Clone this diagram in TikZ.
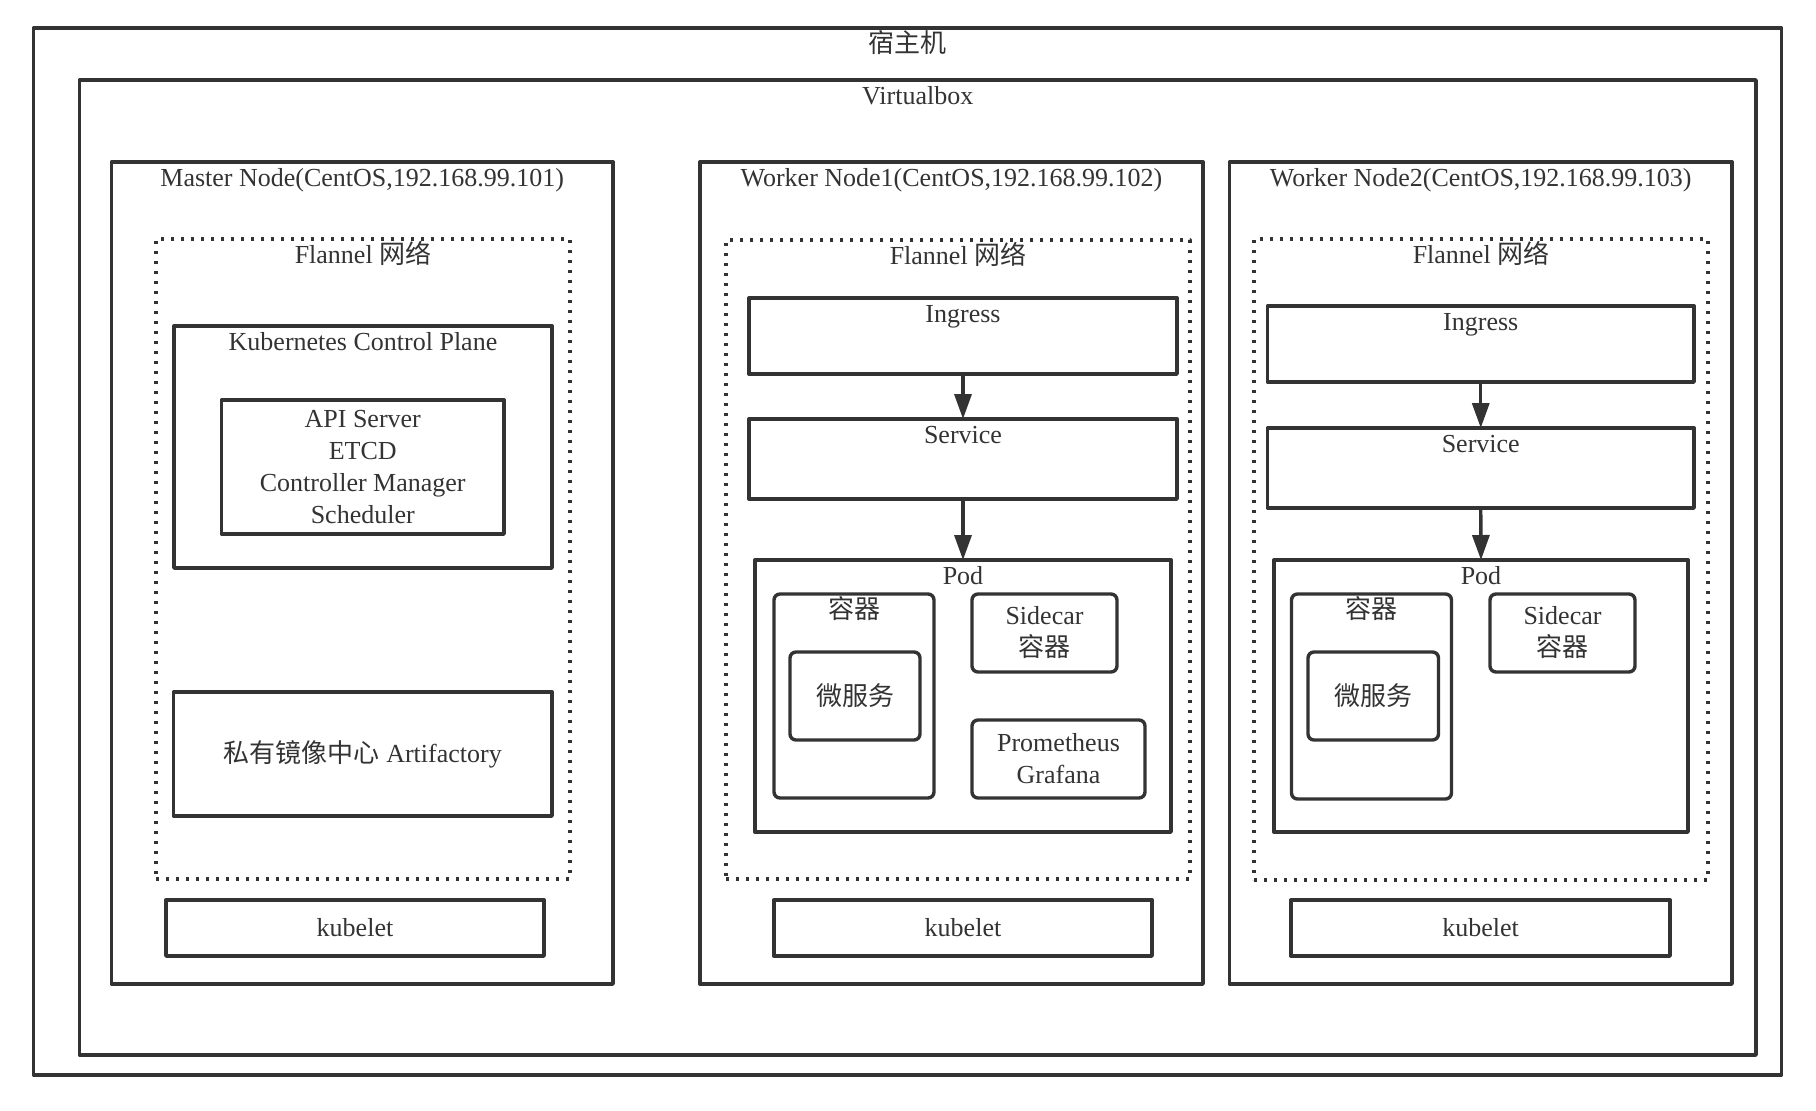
\documentclass[tikz,border=0pt]{standalone}
\usepackage{fontspec}
\setmainfont{Liberation Serif}
\newfontfamily\cjk{Noto Sans CJK SC}
\usepackage{tikz}
\usetikzlibrary{
  arrows.meta,
  fit
}
\definecolor{linegray}{HTML}{333333}

\begin{document}
\begin{tikzpicture}[x=0.5pt, y=-0.5pt,
    font=\fontsize{13}{16}\selectfont, text=linegray,
    box/.style={draw=linegray, line width=1.7pt, line join=round, inner sep=0pt, outer sep=0pt},
    rbox/.style={box, rounded corners=3pt},
    net/.style={box, line width=1.6pt, dash pattern=on 1.6pt off 3.4pt},
    ttl/.style={anchor=base, yshift=-12.25pt, inner sep=0pt},
    txt/.style={align=center, inner sep=0pt},
    flow/.style={draw=linegray, line width=1.7pt, -{Triangle[width=8.5pt,length=12.5pt]}}]
  \useasboundingbox (0,0) rectangle (1816,1110);

  \node[box, fit={(33.5,28) (1781.5,1075)}] (host) {};
  \node[ttl] at (host.north) {\cjk 宿主机};
  \node[box, fit={(79.5,80) (1756,1055)}] (vbox) {};
  \node[ttl] at (vbox.north) {Virtualbox};

  \node[box, fit={(111.5,162) (613,984)}] (master) {};
  \node[ttl] at (master.north) {Master Node(CentOS,192.168.99.101)};
  \node[net, fit={(156,239) (570,879)}] (net0) {};
  \node[ttl] at (net0.north) {Flannel {\cjk 网络}};
  \node[box, fit={(174,326) (552,568)}] (cp) {};
  \node[ttl] at (cp.north) {Kubernetes Control Plane};
  \node[box, fit={(221.5,400) (504,534)}] (api) {};
  \node[txt] at (api) {API Server\\ETCD\\Controller Manager\\Scheduler};
  \node[box, fit={(173.5,692) (552,816)}] (art) {};
  \node[txt] at (art) {{\cjk 私有镜像中心} Artifactory};
  \node[box, fit={(166,900) (544,956)}] (kl0) {};
  \node[txt] at (kl0) {kubelet};

  \node[box, fit={(700,162) (1203,984)}] (worker1) {};
  \node[ttl] at (worker1.north) {Worker Node1(CentOS,192.168.99.102)};
  \node[net, fit={(726,240) (1190,879)}] (net1) {};
  \node[ttl] at (net1.north) {Flannel {\cjk 网络}};
  \node[box, fit={(749,298) (1177,374)}] (ing1) {};
  \node[ttl] at (ing1.north) {Ingress};
  \node[box, fit={(749,419) (1177,499)}] (svc1) {};
  \node[ttl] at (svc1.north) {Service};
  \node[box, fit={(755,560) (1171,832)}] (pod1) {};
  \node[ttl] at (pod1.north) {Pod};
  \node[rbox, fit={(774,594) (934,798)}] (ctr1) {};
  \node[ttl] at (ctr1.north) {\cjk 容器};
  \node[rbox, fit={(790,652) (920,740)}] (ms1) {};
  \node[txt] at (ms1) {\cjk 微服务};
  \node[rbox, fit={(972,594) (1117,672)}] (sc1) {};
  \node[txt] at (sc1) {Sidecar\\{\cjk 容器}};
  \node[rbox, fit={(972,720) (1145,798)}] (mon1) {};
  \node[txt] at (mon1) {Prometheus\\Grafana};
  \node[box, fit={(774,900) (1152,956)}] (kl1) {};
  \node[txt] at (kl1) {kubelet};

  \node[box, fit={(1229.5,162) (1732,984)}] (worker2) {};
  \node[ttl] at (worker2.north) {Worker Node2(CentOS,192.168.99.103)};
  \node[net, fit={(1254,239) (1708,880)}] (net2) {};
  \node[ttl] at (net2.north) {Flannel {\cjk 网络}};
  \node[box, fit={(1267.5,306) (1694,382)}] (ing2) {};
  \node[ttl] at (ing2.north) {Ingress};
  \node[box, fit={(1267.5,428) (1694,508)}] (svc2) {};
  \node[ttl] at (svc2.north) {Service};
  \node[box, fit={(1274,560) (1688,832)}] (pod2) {};
  \node[ttl] at (pod2.north) {Pod};
  \node[rbox, fit={(1291.5,594) (1451.5,799)}] (ctr2) {};
  \node[ttl] at (ctr2.north) {\cjk 容器};
  \node[rbox, fit={(1308,652) (1438.5,740)}] (ms2) {};
  \node[txt] at (ms2) {\cjk 微服务};
  \node[rbox, fit={(1490,594) (1635,672)}] (sc2) {};
  \node[txt] at (sc2) {Sidecar\\{\cjk 容器}};
  \node[box, fit={(1291,900) (1670,956)}] (kl2) {};
  \node[txt] at (kl2) {kubelet};

  \draw[flow] (ing1.south) -- (svc1.north);
  \draw[flow] (svc1.south) -- (pod1.north);
  \draw[flow] (ing2.south) -- (svc2.north);
  \draw[flow] (svc2.south) -- (pod2.north);
\end{tikzpicture}
\end{document}
